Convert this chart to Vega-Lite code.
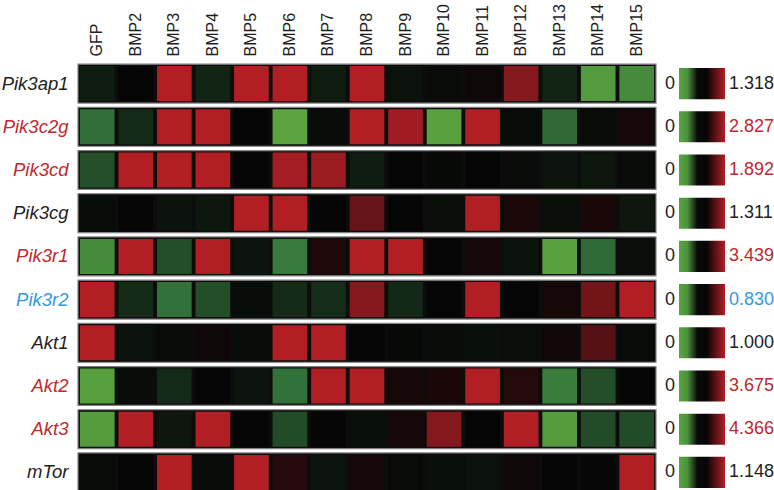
{
  "$schema": "https://vega.github.io/schema/vega-lite/v6.json",
  "padding": {"left": 1, "top": 3, "right": 0, "bottom": 0},
  "background": "white",
  "spacing": 3,
  "config": {"view": {"stroke": null}, "font": "Liberation Sans"},
  "datasets": {
    "genes": [
      {"gene": "Pik3ap1", "max": 1.318, "group": "none"},
      {"gene": "Pik3c2g", "max": 2.827, "group": "up"},
      {"gene": "Pik3cd", "max": 1.892, "group": "up"},
      {"gene": "Pik3cg", "max": 1.311, "group": "none"},
      {"gene": "Pik3r1", "max": 3.439, "group": "up"},
      {"gene": "Pik3r2", "max": 0.830, "group": "down"},
      {"gene": "Akt1", "max": 1.000, "group": "none"},
      {"gene": "Akt2", "max": 3.675, "group": "up"},
      {"gene": "Akt3", "max": 4.366, "group": "up"},
      {"gene": "mTor", "max": 1.148, "group": "none"}
    ],
    "cells": [
      {"gene":"Pik3ap1","sample":"GFP","value":-0.13},{"gene":"Pik3ap1","sample":"BMP2","value":0},{"gene":"Pik3ap1","sample":"BMP3","value":1},{"gene":"Pik3ap1","sample":"BMP4","value":-0.17},{"gene":"Pik3ap1","sample":"BMP5","value":1},{"gene":"Pik3ap1","sample":"BMP6","value":1},{"gene":"Pik3ap1","sample":"BMP7","value":-0.13},{"gene":"Pik3ap1","sample":"BMP8","value":1},{"gene":"Pik3ap1","sample":"BMP9","value":-0.07},{"gene":"Pik3ap1","sample":"BMP10","value":-0.035},{"gene":"Pik3ap1","sample":"BMP11","value":0.05},{"gene":"Pik3ap1","sample":"BMP12","value":0.74},{"gene":"Pik3ap1","sample":"BMP13","value":-0.17},{"gene":"Pik3ap1","sample":"BMP14","value":-0.92},{"gene":"Pik3ap1","sample":"BMP15","value":-0.79},
      {"gene":"Pik3c2g","sample":"GFP","value":-0.58},{"gene":"Pik3c2g","sample":"BMP2","value":-0.2},{"gene":"Pik3c2g","sample":"BMP3","value":1},{"gene":"Pik3c2g","sample":"BMP4","value":1},{"gene":"Pik3c2g","sample":"BMP5","value":0},{"gene":"Pik3c2g","sample":"BMP6","value":-1},{"gene":"Pik3c2g","sample":"BMP7","value":-0.045},{"gene":"Pik3c2g","sample":"BMP8","value":1},{"gene":"Pik3c2g","sample":"BMP9","value":0.9},{"gene":"Pik3c2g","sample":"BMP10","value":-0.97},{"gene":"Pik3c2g","sample":"BMP11","value":1},{"gene":"Pik3c2g","sample":"BMP12","value":-0.035},{"gene":"Pik3c2g","sample":"BMP13","value":-0.55},{"gene":"Pik3c2g","sample":"BMP14","value":-0.025},{"gene":"Pik3c2g","sample":"BMP15","value":0.1},
      {"gene":"Pik3cd","sample":"GFP","value":-0.41},{"gene":"Pik3cd","sample":"BMP2","value":1},{"gene":"Pik3cd","sample":"BMP3","value":1},{"gene":"Pik3cd","sample":"BMP4","value":1},{"gene":"Pik3cd","sample":"BMP5","value":0},{"gene":"Pik3cd","sample":"BMP6","value":0.92},{"gene":"Pik3cd","sample":"BMP7","value":0.87},{"gene":"Pik3cd","sample":"BMP8","value":-0.13},{"gene":"Pik3cd","sample":"BMP9","value":0},{"gene":"Pik3cd","sample":"BMP10","value":-0.02},{"gene":"Pik3cd","sample":"BMP11","value":0},{"gene":"Pik3cd","sample":"BMP12","value":-0.025},{"gene":"Pik3cd","sample":"BMP13","value":-0.085},{"gene":"Pik3cd","sample":"BMP14","value":-0.1},{"gene":"Pik3cd","sample":"BMP15","value":-0.035},
      {"gene":"Pik3cg","sample":"GFP","value":-0.045},{"gene":"Pik3cg","sample":"BMP2","value":0},{"gene":"Pik3cg","sample":"BMP3","value":-0.08},{"gene":"Pik3cg","sample":"BMP4","value":-0.1},{"gene":"Pik3cg","sample":"BMP5","value":1},{"gene":"Pik3cg","sample":"BMP6","value":1},{"gene":"Pik3cg","sample":"BMP7","value":0},{"gene":"Pik3cg","sample":"BMP8","value":0.56},{"gene":"Pik3cg","sample":"BMP9","value":0},{"gene":"Pik3cg","sample":"BMP10","value":-0.05},{"gene":"Pik3cg","sample":"BMP11","value":1},{"gene":"Pik3cg","sample":"BMP12","value":0.13},{"gene":"Pik3cg","sample":"BMP13","value":-0.05},{"gene":"Pik3cg","sample":"BMP14","value":0.12},{"gene":"Pik3cg","sample":"BMP15","value":-0.1},
      {"gene":"Pik3r1","sample":"GFP","value":-0.79},{"gene":"Pik3r1","sample":"BMP2","value":1},{"gene":"Pik3r1","sample":"BMP3","value":-0.4},{"gene":"Pik3r1","sample":"BMP4","value":1},{"gene":"Pik3r1","sample":"BMP5","value":-0.09},{"gene":"Pik3r1","sample":"BMP6","value":-0.66},{"gene":"Pik3r1","sample":"BMP7","value":0.15},{"gene":"Pik3r1","sample":"BMP8","value":1},{"gene":"Pik3r1","sample":"BMP9","value":1},{"gene":"Pik3r1","sample":"BMP10","value":0},{"gene":"Pik3r1","sample":"BMP11","value":0.1},{"gene":"Pik3r1","sample":"BMP12","value":-0.08},{"gene":"Pik3r1","sample":"BMP13","value":-0.97},{"gene":"Pik3r1","sample":"BMP14","value":-0.56},{"gene":"Pik3r1","sample":"BMP15","value":-0.05},
      {"gene":"Pik3r2","sample":"GFP","value":1},{"gene":"Pik3r2","sample":"BMP2","value":-0.21},{"gene":"Pik3r2","sample":"BMP3","value":-0.6},{"gene":"Pik3r2","sample":"BMP4","value":-0.4},{"gene":"Pik3r2","sample":"BMP5","value":-0.045},{"gene":"Pik3r2","sample":"BMP6","value":-0.21},{"gene":"Pik3r2","sample":"BMP7","value":-0.22},{"gene":"Pik3r2","sample":"BMP8","value":0.74},{"gene":"Pik3r2","sample":"BMP9","value":-0.19},{"gene":"Pik3r2","sample":"BMP10","value":0},{"gene":"Pik3r2","sample":"BMP11","value":1},{"gene":"Pik3r2","sample":"BMP12","value":0},{"gene":"Pik3r2","sample":"BMP13","value":0.1},{"gene":"Pik3r2","sample":"BMP14","value":0.63},{"gene":"Pik3r2","sample":"BMP15","value":1},
      {"gene":"Akt1","sample":"GFP","value":1},{"gene":"Akt1","sample":"BMP2","value":-0.08},{"gene":"Akt1","sample":"BMP3","value":-0.025},{"gene":"Akt1","sample":"BMP4","value":0.06},{"gene":"Akt1","sample":"BMP5","value":-0.045},{"gene":"Akt1","sample":"BMP6","value":1},{"gene":"Akt1","sample":"BMP7","value":1},{"gene":"Akt1","sample":"BMP8","value":0},{"gene":"Akt1","sample":"BMP9","value":-0.02},{"gene":"Akt1","sample":"BMP10","value":-0.045},{"gene":"Akt1","sample":"BMP11","value":-0.06},{"gene":"Akt1","sample":"BMP12","value":-0.05},{"gene":"Akt1","sample":"BMP13","value":0.07},{"gene":"Akt1","sample":"BMP14","value":0.47},{"gene":"Akt1","sample":"BMP15","value":-0.035},
      {"gene":"Akt2","sample":"GFP","value":-0.95},{"gene":"Akt2","sample":"BMP2","value":-0.035},{"gene":"Akt2","sample":"BMP3","value":-0.2},{"gene":"Akt2","sample":"BMP4","value":0},{"gene":"Akt2","sample":"BMP5","value":-0.09},{"gene":"Akt2","sample":"BMP6","value":-0.6},{"gene":"Akt2","sample":"BMP7","value":1},{"gene":"Akt2","sample":"BMP8","value":1},{"gene":"Akt2","sample":"BMP9","value":0.1},{"gene":"Akt2","sample":"BMP10","value":0.12},{"gene":"Akt2","sample":"BMP11","value":1},{"gene":"Akt2","sample":"BMP12","value":0.18},{"gene":"Akt2","sample":"BMP13","value":-0.68},{"gene":"Akt2","sample":"BMP14","value":-0.4},{"gene":"Akt2","sample":"BMP15","value":0},
      {"gene":"Akt3","sample":"GFP","value":-0.93},{"gene":"Akt3","sample":"BMP2","value":1},{"gene":"Akt3","sample":"BMP3","value":-0.1},{"gene":"Akt3","sample":"BMP4","value":1},{"gene":"Akt3","sample":"BMP5","value":0},{"gene":"Akt3","sample":"BMP6","value":-0.39},{"gene":"Akt3","sample":"BMP7","value":0},{"gene":"Akt3","sample":"BMP8","value":-0.06},{"gene":"Akt3","sample":"BMP9","value":0.1},{"gene":"Akt3","sample":"BMP10","value":0.74},{"gene":"Akt3","sample":"BMP11","value":0},{"gene":"Akt3","sample":"BMP12","value":1},{"gene":"Akt3","sample":"BMP13","value":-0.93},{"gene":"Akt3","sample":"BMP14","value":-0.39},{"gene":"Akt3","sample":"BMP15","value":-0.39},
      {"gene":"mTor","sample":"GFP","value":-0.035},{"gene":"mTor","sample":"BMP2","value":0},{"gene":"mTor","sample":"BMP3","value":1},{"gene":"mTor","sample":"BMP4","value":-0.045},{"gene":"mTor","sample":"BMP5","value":1},{"gene":"mTor","sample":"BMP6","value":0.2},{"gene":"mTor","sample":"BMP7","value":-0.09},{"gene":"mTor","sample":"BMP8","value":0.1},{"gene":"mTor","sample":"BMP9","value":-0.025},{"gene":"mTor","sample":"BMP10","value":-0.06},{"gene":"mTor","sample":"BMP11","value":-0.07},{"gene":"mTor","sample":"BMP12","value":0.06},{"gene":"mTor","sample":"BMP13","value":0},{"gene":"mTor","sample":"BMP14","value":-0.01},{"gene":"mTor","sample":"BMP15","value":1}
    ]
  },
  "hconcat": [
    {
      "width": 578,
      "height": 432,
      "layer": [
        {
          "data": {"name": "genes"},
          "mark": {"type": "rect", "fill": "#0c0c0c", "stroke": "#808080", "strokeWidth": 1.2},
          "encoding": {
            "y": {
              "field": "gene", "type": "nominal",
              "scale": {"domain": ["Pik3ap1","Pik3c2g","Pik3cd","Pik3cg","Pik3r1","Pik3r2","Akt1","Akt2","Akt3","mTor"], "paddingInner": 0.1, "paddingOuter": 0.05},
              "axis": {
                "title": null, "domain": false, "ticks": false,
                "labelFont": "Liberation Sans", "labelFontStyle": "italic", "labelFontSize": 18.5,
                "labelPadding": 10,
                "labelColor": {
                  "condition": [
                    {"test": "indexof(['Pik3c2g','Pik3cd','Pik3r1','Akt2','Akt3'], datum.value) >= 0", "value": "#c1272d"},
                    {"test": "datum.value === 'Pik3r2'", "value": "#3399e0"}
                  ],
                  "value": "#1e1e1e"
                }
              }
            }
          }
        },
        {
          "data": {"name": "cells"},
          "mark": {"type": "rect", "width": {"band": 0.9}, "height": {"band": 0.9}},
          "encoding": {
            "x": {
              "field": "sample", "type": "nominal",
              "scale": {"domain": ["GFP","BMP2","BMP3","BMP4","BMP5","BMP6","BMP7","BMP8","BMP9","BMP10","BMP11","BMP12","BMP13","BMP14","BMP15"], "paddingInner": 0, "paddingOuter": 0},
              "axis": {
                "orient": "top", "title": null, "domain": false, "ticks": false,
                "labelAngle": -90, "labelFont": "Liberation Sans", "labelFontSize": 16,
                "labelColor": "#1e1e1e", "labelPadding": 6
              }
            },
            "y": {"field": "gene", "type": "nominal"},
            "fill": {
              "field": "value", "type": "quantitative",
              "scale": {"domain": [-1, -0.6, 0, 1], "range": ["#5ca43f", "#32723a", "#050505", "#b11f25"], "interpolate": "rgb", "clamp": true},
              "legend": null
            }
          }
        }
      ]
    },
    {
      "width": 114,
      "height": 432,
      "data": {"name": "genes"},
      "encoding": {
        "y": {
          "field": "gene", "type": "nominal",
          "scale": {"domain": ["Pik3ap1","Pik3c2g","Pik3cd","Pik3cg","Pik3r1","Pik3r2","Akt1","Akt2","Akt3","mTor"], "paddingInner": 0.1, "paddingOuter": 0.05},
          "axis": null
        }
      },
      "layer": [
        {
          "mark": {
            "type": "rect", "height": {"band": 0.8},
            "fill": {"gradient": "linear", "x1": 0, "x2": 1, "y1": 0, "y2": 0,
              "stops": [
                {"offset": 0, "color": "#5aa540"},
                {"offset": 0.18, "color": "#4b923c"},
                {"offset": 0.4, "color": "#0a0a0a"},
                {"offset": 0.6, "color": "#060606"},
                {"offset": 1, "color": "#b51e25"}
              ]}
          },
          "encoding": {
            "x": {"datum": 0, "type": "quantitative", "scale": {"domain": [-0.413, 2.065], "nice": false, "zero": false}, "axis": null},
            "x2": {"datum": 1}
          }
        },
        {
          "mark": {"type": "text", "align": "right", "baseline": "middle", "dx": -4, "fontSize": 18, "font": "Liberation Sans", "color": "#1e1e1e"},
          "encoding": {
            "x": {"datum": 0, "type": "quantitative"},
            "text": {"value": "0"}
          }
        },
        {
          "mark": {"type": "text", "align": "left", "baseline": "middle", "dx": 4, "fontSize": 18, "font": "Liberation Sans"},
          "encoding": {
            "x": {"datum": 1, "type": "quantitative"},
            "text": {"field": "max", "type": "quantitative", "format": ".3f"},
            "color": {
              "field": "group", "type": "nominal",
              "scale": {"domain": ["none", "up", "down"], "range": ["#1e1e1e", "#c1272d", "#3399e0"]},
              "legend": null
            }
          }
        }
      ]
    }
  ]
}
